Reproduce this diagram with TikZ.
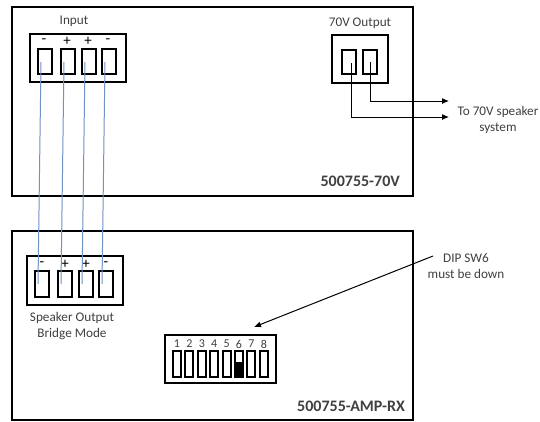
\documentclass[tikz,border=0pt]{standalone}
\usepackage{fontspec}
\setmainfont{Carlito}
\usepackage{xcolor}
\usetikzlibrary{arrows.meta,positioning}
\definecolor{wireblue}{HTML}{6F93C6}
\definecolor{labelgray}{HTML}{404040}
\tikzset{
  lbl/.style={text=labelgray,font=\fontsize{13.2}{14}\selectfont,inner sep=0pt,align=center},
  partno/.style={text=labelgray,font=\fontsize{16}{18}\selectfont\bfseries,inner sep=0pt},
  sign/.style={text=black,font=\fontsize{15}{15}\selectfont,inner sep=0pt},
  dipnum/.style={text=labelgray,font=\fontsize{12}{12}\selectfont,inner sep=0pt},
  wire/.style={draw=wireblue,line width=1pt},
  lead/.style={draw=black,line width=1pt,-{Latex[length=7pt,width=6pt]}},
}
\begin{document}
\begin{tikzpicture}[x=1pt,y=-1pt]
\useasboundingbox (0,0) rectangle (540,421);
\fill[white] (0,0) rectangle (540,421);
\draw[line width=2pt] (12,7) rectangle (413,196);% the top box
\draw[line width=2pt] (12,231) rectangle (413,420);% the bottom box
\node[partno,anchor=east] (partA) at (400,181) {500755-70V};
\node[partno,anchor=east] (partB) at (405,406) {500755-AMP-RX};

% input block
\node[lbl] (inlabel) at (74,21) {Input};
\draw[line width=2pt] (30,34) rectangle (126,82);
\foreach \name/\x/\s in {a/38/-,b/61/+,c/82/+,d/102/-}{
  \draw[line width=2pt] (\x,49) rectangle (\x+14,74);
  \coordinate (in\name) at (\x+3,62);
  \node[sign] (insign\name) at (\x+6,41) {\s};
}

% speaker output block
\draw[line width=2pt] (27,256) rectangle (123,305);
\foreach \name/\x/\s in {a/35/-,b/58/+,c/79/+,d/99/-}{
  \draw[line width=2pt] (\x,271) rectangle (\x+14,297);
  \coordinate (sp\name) at (\x+3,284);
  \node[sign] (spsign\name) at (\x+7,264) {\s};
}
\node[lbl] (splabel) at (72,326) {Speaker Output\\[2pt]Bridge Mode};
\foreach \name in {a,b,c,d}
  \draw[wire] (in\name) -- (sp\name);

% 70V output
\node[lbl] (outlabel) at (360,23) {70V Output};
\draw[line width=2pt] (332,35) rectangle (388,83);
\draw[line width=2pt] (342,50) rectangle (356,74);
\draw[line width=2pt] (363,50) rectangle (377,74);
\coordinate (outa) at (351,63);
\coordinate (outb) at (370,62);
\node[lbl] (spk) at (498,120) {To 70V speaker\\[2pt]system};
\coordinate (tipa) at (449,117);
\coordinate (tipb) at (449,101);
\draw[lead] (outa) |- (tipa);
\draw[lead] (outb) |- (tipb);

% dip switch
\draw[line width=2pt] (165,335) rectangle (276,383);
\foreach \n in {1,...,8}{
  \pgfmathsetmacro{\px}{177+(\n-1)*12.4}
  \node[dipnum] (num\n) at (\px,344) {\n};
  \draw[line width=2pt] (\px-4,351) rectangle (\px+4,376.5);
}
\fill (235,362) rectangle (243,377);
\node[lbl] (dip) at (466,266) {DIP SW6\\[2pt]must be down};
\coordinate (dipstart) at (433,256);
\coordinate (diptip) at (254,327);
\draw[lead] (dipstart) -- (diptip);
\end{tikzpicture}
\end{document}
